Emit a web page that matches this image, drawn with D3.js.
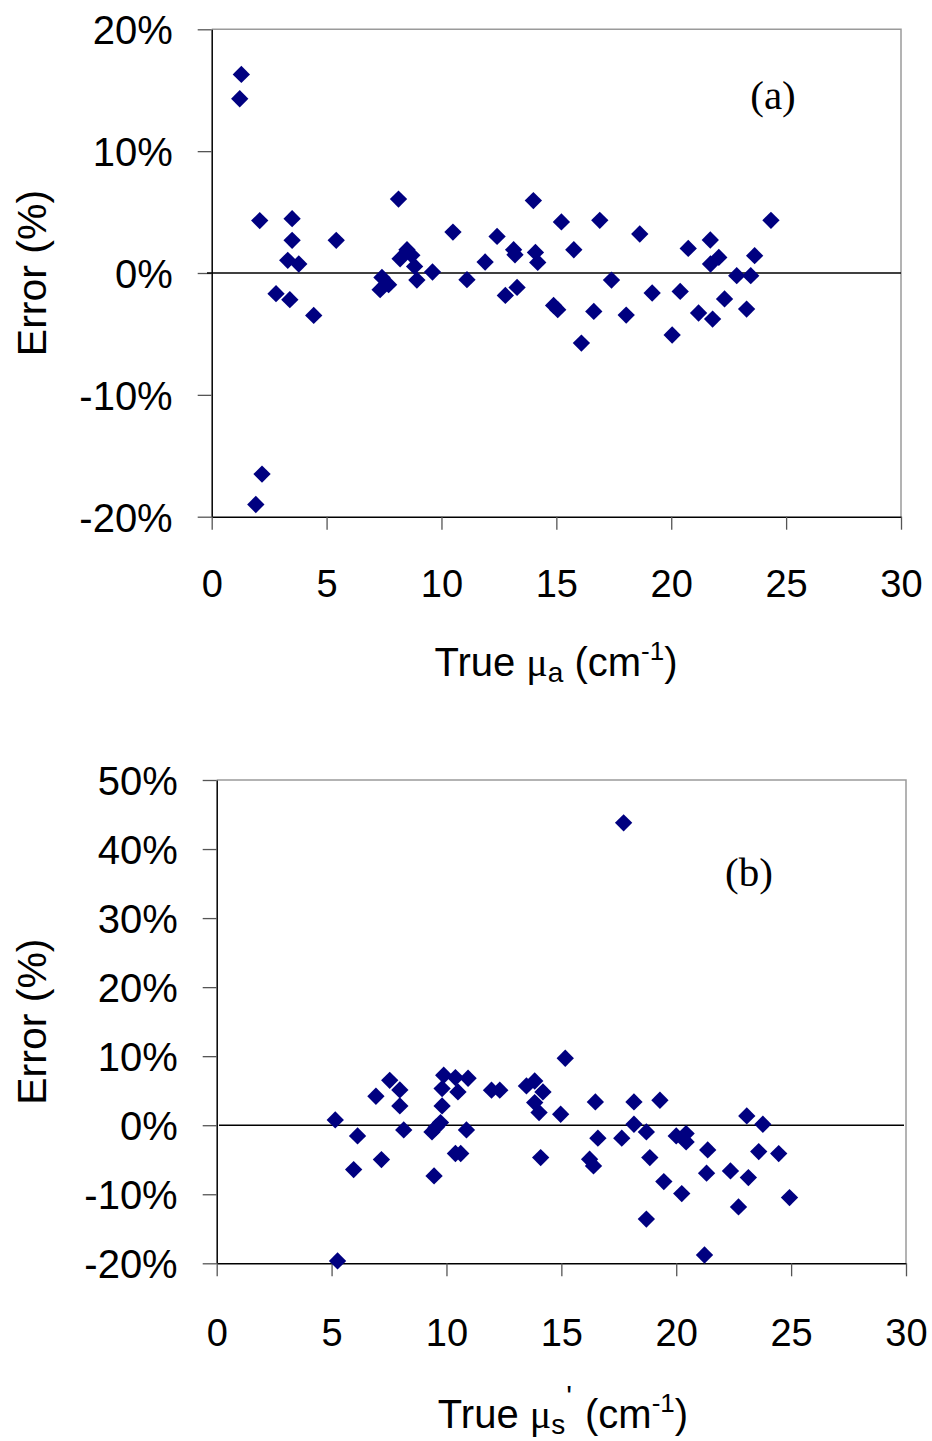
<!DOCTYPE html>
<html>
<head>
<meta charset="utf-8">
<script src="https://cdn.jsdelivr.net/npm/d3@7"></script>
<style>
  body { margin: 0; background: #fff; }
  svg { display: block; }
  text { font-family: Arial, "Liberation Sans", sans-serif; fill: #000; }
</style>
</head>
<body>
<svg id="chart" width="932" height="1441"></svg>
<script>
// panel (a): true absorption coefficient vs error
const muA = [1.29, 1.22, 2.09, 3.5, 3.5, 3.31, 3.79, 2.8, 3.4, 4.44, 5.42, 2.19, 1.92,
  8.13, 7.41, 7.33, 7.7, 8.5, 8.2, 8.71, 8.83, 8.93, 9.61, 10.5, 11.11, 11.9, 12.42,
  13.14, 13.2, 12.78, 13.29, 14.0, 14.09, 14.19, 14.88, 15.06, 15.22, 16.89, 18.63,
  15.76, 17.4, 16.63, 18.04, 16.09, 19.17, 20.39, 20.04, 20.74, 21.7, 21.71, 22.07,
  21.19, 21.8, 22.32, 22.85, 23.46, 23.63, 23.28, 24.34];
const errA = [16.3, 14.3, 4.3, 4.46, 2.68, 1.04, 0.74, -1.7, -2.19, -3.48, 2.68, -16.5, -19.0,
  6.07, -0.36, -1.37, -0.96, 1.91, 1.17, 1.45, 0.54, -0.58, 0.08, 3.36, -0.55, 0.9, 3.0,
  1.91, 1.5, -1.84, -1.18, 5.94, 1.69, 0.87, -2.66, -3.01, 4.19, 4.32, 3.2,
  1.91, -0.58, -3.15, -3.45, -5.75, -1.64, -1.51, -5.09, 2.02, 2.71, 0.74, 1.28,
  -3.28, -3.78, -2.13, -0.22, -0.22, 1.42, -2.96, 4.32];

// panel (b): true reduced scattering coefficient vs error
const muS = [5.16, 5.26, 6.13, 5.96, 6.93, 7.53, 7.97, 7.97, 8.14, 7.17, 9.88, 9.81, 9.81,
  9.74, 9.55, 9.37, 9.46, 10.39, 10.94, 10.5, 10.87, 10.39, 10.62, 11.96, 12.32, 13.48,
  13.84, 14.2, 13.84, 14.03, 14.1, 14.97, 17.71, 15.17, 16.48, 18.16, 19.29, 18.16, 18.7,
  16.59, 17.63, 16.23, 16.4, 18.85, 20.0, 20.43, 20.43, 19.46, 20.24, 18.7, 21.23, 21.37,
  21.32, 22.36, 23.14, 22.71, 23.07, 23.77, 23.59, 24.46, 24.93];
const errS = [0.77, -19.65, -1.55, -6.43, 4.2, 6.5, 5.11, 2.8, -0.68, -4.98, 7.24, 5.3, 2.8,
  0.38, -0.3, -0.97, -7.34, 6.9, 6.8, 4.82, -0.68, -4.1, -4.1, 5.07, 5.07, 5.69,
  6.4, 4.82, 3.28, 1.83, -4.69, 1.59, 43.8, 9.7, 3.37, 3.37, 3.62, 0.14, -0.97,
  -1.88, -1.88, -4.93, -5.89, -4.69, -1.55, -1.21, -2.42, -8.16, -9.9, -13.6, -18.8, -3.58,
  -6.95, -6.62, -7.58, -11.83, 1.35, 0.14, -3.82, -4.11, -10.48];

const xTicks = [0, 5, 10, 15, 20, 25, 30];
const yTicksA = [-20, -10, 0, 10, 20];
const yTicksB = [-20, -10, 0, 10, 20, 30, 40, 50];

const svg = d3.select('#chart');
svg.append('rect').attr('width', 932).attr('height', 1441).attr('fill', '#fff');

function drawPanel(opt) {
  const x = d3.scaleLinear().domain([0, 30]).range([opt.left, opt.right]);
  const y = d3.scaleLinear().domain(opt.yDomain).range([opt.bottom, opt.top]);
  const g = svg.append('g');

  // gray frame on top and right
  g.append('path')
    .attr('d', `M${opt.left},${opt.top}H${opt.right}V${opt.bottom}`)
    .attr('fill', 'none').attr('stroke', '#9a9a9a').attr('stroke-width', 1.5);

  const yAxis = g.append('g')
    .attr('transform', `translate(${opt.left},0)`)
    .call(d3.axisLeft(y).tickValues(opt.yTicks).tickSize(14).tickSizeOuter(0)
      .tickPadding(25).tickFormat(d => d + '%'));
  const xAxis = g.append('g')
    .attr('transform', `translate(0,${opt.bottom})`)
    .call(d3.axisBottom(x).tickValues(xTicks).tickSize(13).tickSizeOuter(0).tickPadding(0));

  [yAxis, xAxis].forEach(a => {
    a.select('.domain').attr('stroke', '#000').attr('stroke-width', 1.5);
    a.selectAll('.tick line').attr('stroke', '#555').attr('stroke-width', 1.3);
  });
  yAxis.selectAll('.tick text')
    .style('font-size', '40px').attr('dy', '0.36em');
  xAxis.selectAll('.tick text')
    .style('font-size', '38px').attr('dy', null).attr('y', opt.xTickBase);

  // zero reference line
  g.append('line')
    .attr('x1', opt.zeroFrom).attr('x2', opt.zeroTo)
    .attr('y1', y(0)).attr('y2', y(0))
    .attr('stroke', '#000').attr('stroke-width', 1.6);

  g.selectAll('path.pt')
    .data(opt.xs.map((v, i) => [v, opt.ys[i]]))
    .join('path')
    .attr('class', 'pt')
    .attr('d', d3.symbol(d3.symbolSquare, 150))
    .attr('transform', d => `translate(${x(d[0])},${y(d[1])}) rotate(45)`)
    .attr('fill', '#000080');

  // y title
  g.append('text')
    .attr('transform', `translate(46,${(opt.top + opt.bottom) / 2}) rotate(-90)`)
    .attr('text-anchor', 'middle')
    .style('font-size', '41px')
    .text('Error (%)');

  // panel tag
  g.append('text')
    .attr('x', opt.tagX).attr('y', opt.tagY)
    .attr('text-anchor', 'middle')
    .style('font-family', '"Liberation Serif", "Times New Roman", serif')
    .style('font-size', '41px')
    .text(opt.tag);

  // x title
  const t = g.append('text')
    .attr('x', opt.titleX).attr('y', opt.xTitleBase)
    .attr('text-anchor', 'middle')
    .style('font-size', '40px');
  t.append('tspan').text('True ');
  t.append('tspan').style('font-family', '"Liberation Serif", "Times New Roman", serif').text('\u03bc');
  t.append('tspan').attr('dy', 6).style('font-size', '28px').text(opt.sub);
  if (opt.prime) {
    t.append('tspan').attr('dy', -28).attr('dx', 1).style('font-size', '30px').text("'");
    t.append('tspan').attr('dy', 22).attr('dx', 2).text(' (cm');
  } else {
    t.append('tspan').attr('dy', -6).text(' (cm');
  }
  t.append('tspan').attr('dy', -16).style('font-size', '26px').text('-1');
  t.append('tspan').attr('dy', 16).text(')');
}

drawPanel({
  xs: muA, ys: errA, left: 211.7, right: 901, top: 29.3, bottom: 516.7,
  yDomain: [-20, 20], yTicks: yTicksA, xTickBase: 80,
  zeroFrom: 207, zeroTo: 901, tag: '(a)', tagX: 773, tagY: 109,
  sub: 'a', prime: false, xTitleBase: 676, titleX: 556
});

drawPanel({
  xs: muS, ys: errS, left: 216.7, right: 906, top: 780, bottom: 1263.3,
  yDomain: [-20, 50], yTicks: yTicksB, xTickBase: 83,
  zeroFrom: 219, zeroTo: 904, tag: '(b)', tagX: 749, tagY: 886,
  sub: 's', prime: true, xTitleBase: 1428, titleX: 563
});
</script>
</body>
</html>
